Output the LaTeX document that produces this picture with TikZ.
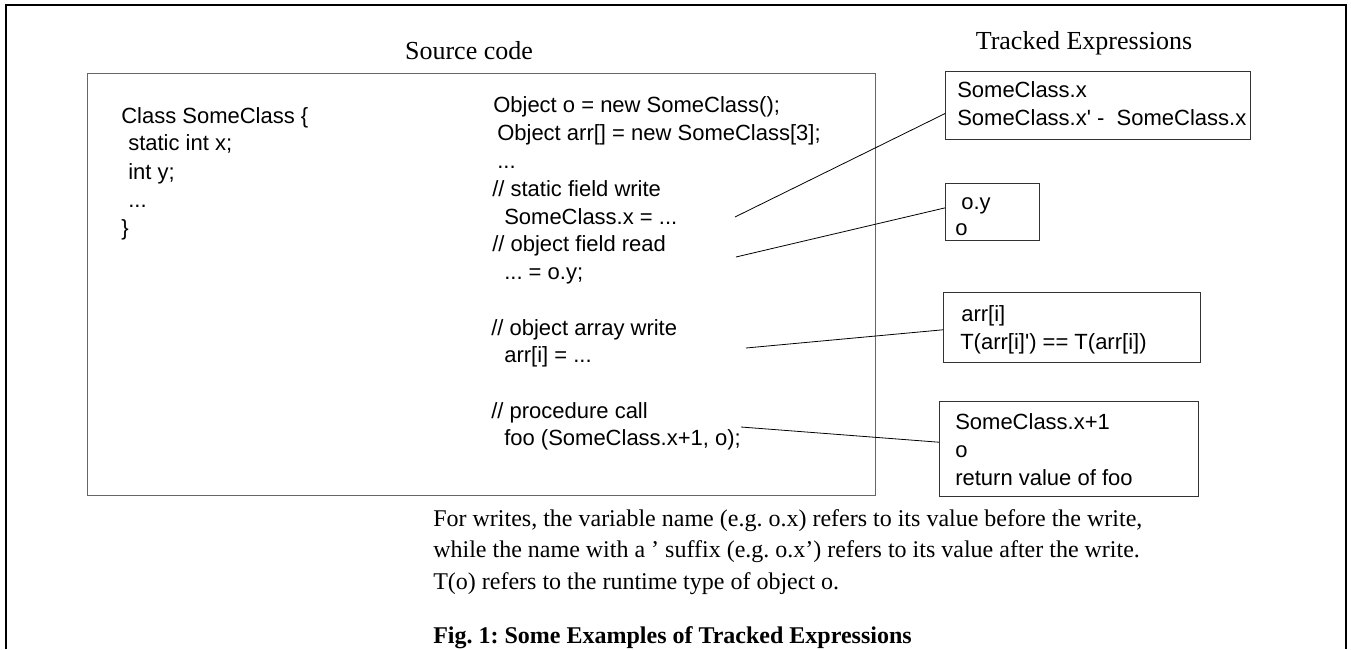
\documentclass[tikz,border=0pt]{standalone}
\usepackage{fontspec}
\setmainfont{Liberation Serif}
\newfontfamily\codefont{Liberation Sans}
\definecolor{framegray}{gray}{.4}
\definecolor{boxgray}{gray}{.2}
\frenchspacing

\begin{document}
\begin{tikzpicture}[x=.75pt, y=-.75pt,
	title/.style={font=\fontsize{19.5pt}{24pt}\selectfont, anchor=base, inner sep=0pt},
	code/.style={font=\codefont\fontsize{16.5pt}{20pt}\selectfont, anchor=base west, inner sep=0pt},
	note/.style={font=\fontsize{18pt}{22pt}\selectfont, anchor=base west, inner sep=0pt},
	exprbox/.style 2 args={draw=boxgray, line width=.8pt, minimum width=#1*.75pt, minimum height=#2*.75pt, anchor=north west, inner sep=0pt},
	link/.style={line width=.6pt}]
	
	\useasboundingbox (0,0) rectangle (1351,649);
	\draw[line width=1.1pt] (6,649) -- (6,5) -- (1346,5) -- (1346,649);
	
	\node[title] (srctitle) at (469,60) {Source code};
	\node[title] (exprtitle) at (1084,50) {Tracked Expressions};
	
	\node[exprbox={788}{422}, draw=framegray, line width=1pt] (src) at (87,73) {};
	\node[exprbox={305}{68}] (box1) at (945,71) {};
	\node[exprbox={94}{57}] (box2) at (945,183) {};
	\node[exprbox={257}{70}] (box3) at (943,292) {};
	\node[exprbox={259}{95}] (box4) at (939,401) {};
	
	\node[code] (cls1) at (121,123) {Class SomeClass \{};
	\node[code] (cls2) at (128,151) {static int x;};
	\node[code] (cls3) at (128,179) {int y;};
	\node[code] (cls4) at (128,207) {...};
	\node[code] (cls5) at (121,235) {\}};
	
	\node[code] (main1) at (493,113) {Object o = new SomeClass();};
	\node[code] (main2) at (497,141) {Object arr[] = new SomeClass[3];};
	\node[code] (main3) at (497,168) {...};
	\node[code] (main4) at (492,196) {// static field write};
	\node[code] (main5) at (504,224) {SomeClass.x = ...};
	\node[code] (main6) at (492,251) {// object field read};
	\node[code] (main7) at (504,279) {... = o.y;};
	\node[code] (main8) at (491,335) {// object array write};
	\node[code] (main9) at (504,362) {arr[i] = ...};
	\node[code] (main10) at (491,418) {// procedure call};
	\node[code] (main11) at (504,445) {foo (SomeClass.x+1, o);};
	
	\node[code] (e11) at (957,98) {SomeClass.x};
	\node[code] (e12) at (957,126) {SomeClass.x' -\ \ SomeClass.x};
	\node[code] (e21) at (961,209) {o.y};
	\node[code] (e22) at (955,235) {o};
	\node[code] (e31) at (961,321) {arr[i]};
	\node[code] (e32) at (960,349) {T(arr[i]') == T(arr[i])};
	\node[code] (e41) at (955,429) {SomeClass.x+1};
	\node[code] (e42) at (955,457) {o};
	\node[code] (e43) at (955,485) {return value of foo};
	
	\coordinate (swrite) at (735,217);
	\coordinate (oread) at (736,257);
	\coordinate (awrite) at (746,348);
	\coordinate (pcall) at (741,427);
	\draw[link] (swrite) -- (box1.183.75);
	\draw[link] (oread) -- (box2.175.7);
	\draw[link] (awrite) -- (box3.181.1);
	\draw[link] (pcall) -- (box4.177.8);
	
	\node[note] (n1) at (433,526) {For writes, the variable name (e.g. o.x) refers to its value before the write,};
	\node[note] (n2) at (433,557) {while the name with a ' suffix (e.g. o.x') refers to its value after the write.};
	\node[note] (n3) at (433,589) {T(o) refers to the runtime type of object o.};
	\node[note] (cap) at (433,643) {\textbf{Fig. 1: Some Examples of Tracked Expressions}};
\end{tikzpicture}
\end{document}
